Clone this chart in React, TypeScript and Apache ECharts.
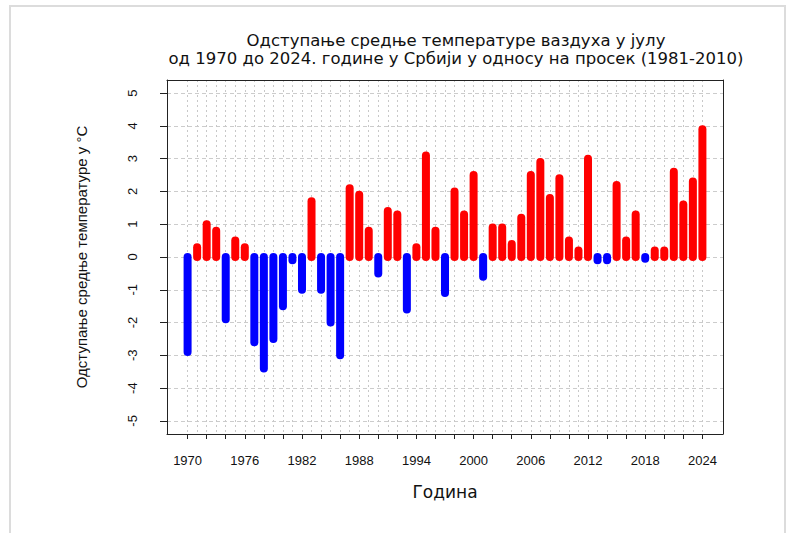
import React, { useEffect, useRef } from "react";
import * as echarts from "echarts";

const years = [
  1970, 1971, 1972, 1973, 1974, 1975, 1976, 1977, 1978, 1979,
  1980, 1981, 1982, 1983, 1984, 1985, 1986, 1987, 1988, 1989,
  1990, 1991, 1992, 1993, 1994, 1995, 1996, 1997, 1998, 1999,
  2000, 2001, 2002, 2003, 2004, 2005, 2006, 2007, 2008, 2009,
  2010, 2011, 2012, 2013, 2014, 2015, 2016, 2017, 2018, 2019,
  2020, 2021, 2022, 2023, 2024,
];

const anomalies = [
  -2.9, 0.3, 1.0, 0.8, -1.9, 0.5, 0.3, -2.6, -3.4, -2.5,
  -1.5, -0.1, -1.0, 1.7, -1.0, -2.0, -3.0, 2.1, 1.9, 0.8,
  -0.5, 1.4, 1.3, -1.6, 0.3, 3.1, 0.8, -1.1, 2.0, 1.3,
  2.5, -0.6, 0.9, 0.9, 0.4, 1.2, 2.5, 2.9, 1.8, 2.4,
  0.5, 0.2, 3.0, -0.1, -0.1, 2.2, 0.5, 1.3, -0.05, 0.2,
  0.2, 2.6, 1.6, 2.3, 3.9,
];

const xTickYears = [
  1970, 1972, 1974, 1976, 1978, 1980, 1982, 1984, 1986, 1988,
  1990, 1992, 1994, 1996, 1998, 2000, 2002, 2004, 2006, 2008,
  2010, 2012, 2014, 2016, 2018, 2020, 2022, 2024,
];
const xLabelYears = [1970, 1976, 1982, 1988, 1994, 2000, 2006, 2012, 2018, 2024];
const yTicks = [-5, -4, -3, -2, -1, 0, 1, 2, 3, 4, 5];

const titleLines = [
  "Одступање средње температуре ваздуха у јулу",
  "од 1970 до 2024. године у Србији у односу на просек (1981-2010)",
];
const xName = "Година";
const yName = "Одступање средње температуре у °C";

const FONT = "'Liberation Sans', Arial, sans-serif";
const WIDE = "'DejaVu Sans', 'Liberation Sans', sans-serif";

export default function App() {
  const ref = useRef<HTMLDivElement>(null);

  useEffect(() => {
    if (!ref.current) return;
    const chart = echarts.init(ref.current, undefined, { renderer: "svg" });

    const data = years.map((y, i) => [y, anomalies[i]]);

    const option: any = {
      animation: false,
      backgroundColor: "#ffffff",
      title: {
        text: titleLines.join("\n"),
        left: 456,
        top: 31,
        padding: 0,
        textAlign: "center",
        textStyle: {
          fontFamily: WIDE,
          fontSize: 16.5,
          fontWeight: "normal",
          lineHeight: 18,
          color: "#111",
        },
      },
      graphic: [
        {
          type: "rect",
          shape: { x: 10, y: 6, width: 775, height: 560 },
          style: { fill: "none", stroke: "#dcdcdc", lineWidth: 2 },
          silent: true,
        },
      ],
      grid: { left: 167, right: 69, top: 80, bottom: 99 },
      xAxis: [
        {
          type: "value",
          position: "bottom",
          min: 1967.84,
          max: 2026.16,
          axisLine: { show: true, onZero: false, lineStyle: { color: "#222", width: 1 } },
          axisTick: {
            show: true,
            length: 5,
            customValues: xTickYears,
            lineStyle: { color: "#222" },
          },
          axisLabel: {
            customValues: xLabelYears,
            margin: 20,
            fontFamily: FONT,
            fontSize: 13,
            color: "#111",
            formatter: (v: number) => String(v),
          },
          splitLine: { show: false },
          name: xName,
          nameLocation: "middle",
          nameGap: 49,
          nameTextStyle: { fontFamily: WIDE, fontSize: 17, color: "#111" },
        },
        {
          type: "value",
          position: "top",
          min: 1967.84,
          max: 2026.16,
          axisLine: { show: true, onZero: false, lineStyle: { color: "#222", width: 1 } },
          axisTick: { show: false, customValues: years },
          axisLabel: { show: false },
          splitLine: {
            show: true,
            lineStyle: { color: "#c8c8c8", type: [2, 3], width: 1 },
          },
        },
      ],
      yAxis: [
        {
          type: "value",
          position: "left",
          min: -5.4,
          max: 5.4,
          axisLine: { show: true, onZero: false, lineStyle: { color: "#222", width: 1 } },
          axisTick: {
            show: true,
            length: 7,
            customValues: yTicks,
            lineStyle: { color: "#222" },
          },
          axisLabel: {
            customValues: yTicks,
            rotate: 90,
            align: "center",
            verticalAlign: "bottom",
            margin: 28,
            fontFamily: FONT,
            fontSize: 13,
            color: "#111",
          },
          splitLine: {
            show: true,
            lineStyle: { color: "#cccccc", type: [4, 3], width: 1 },
          },
          name: yName,
          nameLocation: "middle",
          nameGap: 78,
          nameTextStyle: { fontFamily: FONT, fontSize: 15, color: "#111" },
        },
        {
          type: "value",
          position: "right",
          min: -5.4,
          max: 5.4,
          axisLine: { show: true, onZero: false, lineStyle: { color: "#222", width: 1 } },
          axisTick: { show: false },
          axisLabel: { show: false },
          splitLine: { show: false },
        },
      ],
      series: [
        {
          type: "custom",
          xAxisIndex: 0,
          yAxisIndex: 0,
          data,
          encode: { x: 0, y: 1 },
          renderItem: (params: any, api: any) => {
            const x = api.value(0);
            const v = api.value(1);
            const a = api.coord([x, 0]);
            const b = api.coord([x, v]);
            return {
              type: "line",
              shape: { x1: a[0], y1: a[1], x2: b[0], y2: b[1] },
              style: {
                stroke: v >= 0 ? "#FF0000" : "#0000FF",
                lineWidth: 8,
                lineCap: "round",
              },
            };
          },
        },
      ],
    };

    chart.setOption(option);
    return () => chart.dispose();
  }, []);

  return (
    <div
      ref={ref}
      style={{ position: "fixed", left: 0, top: 0, width: 792, height: 533 }}
    />
  );
}
